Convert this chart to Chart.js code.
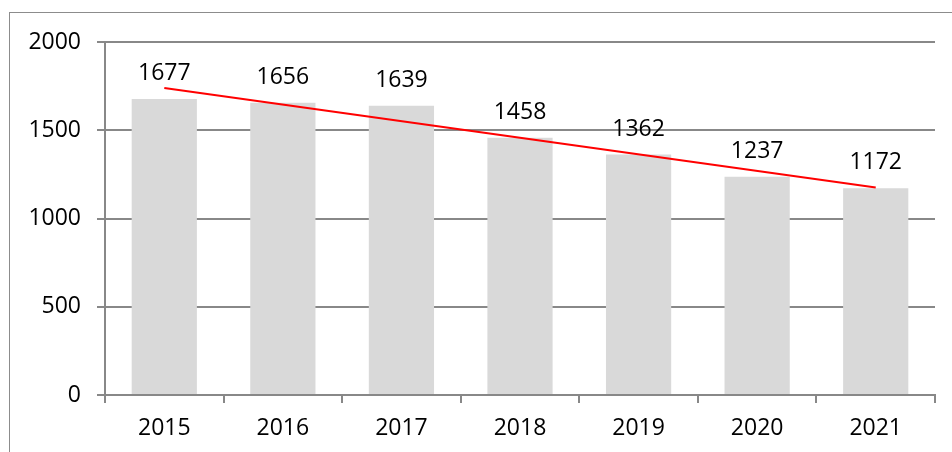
<!DOCTYPE html>
<html>
<head>
<meta charset="utf-8">
<script src="https://cdn.jsdelivr.net/npm/chart.js@4"></script>
<style>
	html, body { margin: 0; padding: 0; background: #fff; overflow: hidden; }
	#wrap { position: relative; width: 952px; height: 452px; overflow: hidden; }
	#frame { position: absolute; left: 9px; top: 12px; width: 1000px; height: 1000px; border: 1px solid #8c8c8c; }
	#chart { position: absolute; left: 0; top: 0; }
</style>
</head>
<body>
<div id="wrap">
	<div id="frame"></div>
	<canvas id="chart" width="952" height="452"></canvas>
</div>
<script>
const years = ['2015', '2016', '2017', '2018', '2019', '2020', '2021'];
const values = [1677, 1656, 1639, 1458, 1362, 1237, 1172];
// trend line: start and end only
const trend = [1739, null, null, null, null, null, 1176];
const yTicks = [0, 500, 1000, 1500, 2000];

const fontFamily = '"Open Sans", "Liberation Sans", sans-serif';
const fontSize = 23;
const axisGray = '#888888';

const barLabels = {
	id: 'barLabels',
	afterDatasetsDraw(chart) {
		const { ctx } = chart;
		const meta = chart.getDatasetMeta(1); // the bar dataset
		ctx.save();
		ctx.font = `${fontSize}px ${fontFamily}`;
		ctx.fillStyle = '#000';
		ctx.textAlign = 'center';
		ctx.textBaseline = 'alphabetic';
		meta.data.forEach((bar, index) => {
			ctx.fillText(String(values[index]), bar.x, bar.y - 19);
		});
		ctx.restore();
	},
};

const canvas = document.querySelector('#chart');

new Chart(canvas.getContext('2d'), {
	data: {
		labels: years,
		datasets: [
			{
				type: 'line',
				data: trend,
				borderColor: '#ff0000',
				borderWidth: 2,
				pointRadius: 0,
				spanGaps: true,
				tension: 0,
				order: 0,
			},
			{
				type: 'bar',
				data: values,
				backgroundColor: '#d9d9d9',
				barPercentage: 0.55,
				categoryPercentage: 1,
				order: 1,
			},
		],
	},
	options: {
		responsive: false,
		animation: false,
		layout: { padding: { left: 0, right: 17, top: 42, bottom: 0 } },
		plugins: {
			legend: { display: false },
			tooltip: { enabled: false },
		},
		scales: {
			x: {
				offset: true,
				grid: {
					offset: true,
					drawOnChartArea: false,
					color: axisGray,
					lineWidth: 2,
					tickLength: 8,
				},
				border: { color: axisGray, width: 2 },
				ticks: {
					color: '#000',
					font: { family: fontFamily, size: fontSize },
					padding: 12,
					maxRotation: 0,
				},
				afterFit: (scale) => { scale.height = 57; },
			},
			y: {
				min: 0,
				max: 2000,
				afterBuildTicks: (scale) => { scale.ticks = yTicks.map((v) => ({ value: v })); },
				grid: {
					color: axisGray,
					lineWidth: 2,
					tickLength: 8,
				},
				border: { color: axisGray, width: 2 },
				ticks: {
					color: '#000',
					font: { family: fontFamily, size: fontSize },
					padding: 16,
					callback: (value) => String(value),
				},
				afterFit: (scale) => { scale.width = 105; },
			},
		},
	},
	plugins: [barLabels],
});
</script>
</body>
</html>
